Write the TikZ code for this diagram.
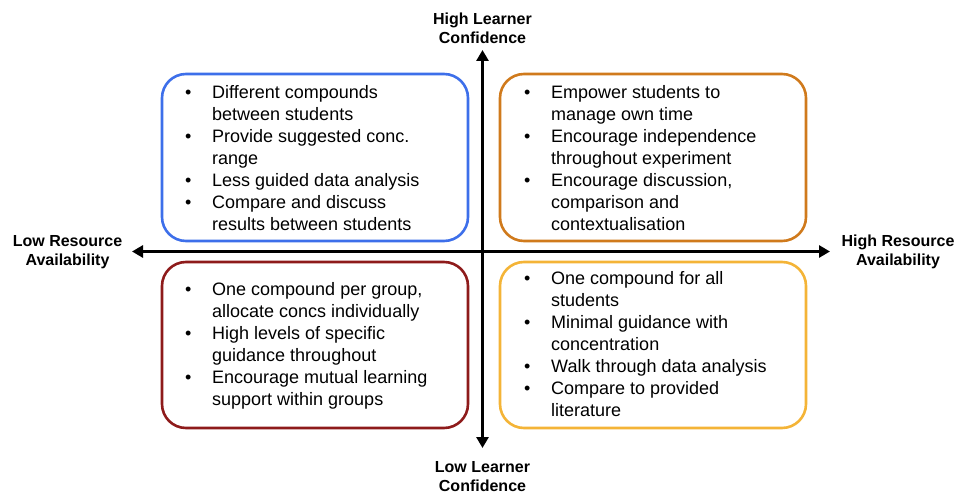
\documentclass[tikz,border=0pt]{standalone}
\usepackage{fontspec}
\setmainfont{Liberation Sans}
\usetikzlibrary{arrows.meta}
\definecolor{qblue}{HTML}{3D6FEA}
\definecolor{qorange}{HTML}{D07A1C}
\definecolor{qred}{HTML}{8E1B1B}
\definecolor{qyellow}{HTML}{F4B437}
\newcommand{\qb}{\makebox[27pt][l]{\textbullet}}
\newcommand{\qn}{\makebox[27pt][l]{}}
\begin{document}
\begin{tikzpicture}[x=1pt,y=-1pt,
  qbox/.style={draw, line width=2.6pt, rounded corners=24pt, minimum width=306pt, minimum height=167pt, inner sep=0pt},
  qtxt/.style={anchor=base west, inner sep=0pt, font=\fontsize{18}{22}\selectfont},
  qlab/.style={anchor=base, inner sep=0pt, font=\fontsize{16}{19}\selectfont\bfseries},
  qaxis/.style={line width=3.6pt, {Triangle[length=11pt,width=12pt]}-{Triangle[length=11pt,width=12pt]}}]
\useasboundingbox (0,0) rectangle (956,494);
\fill[white] (0,0) rectangle (956,494);

% boxes
\node[qbox, draw=qblue]   (tl) at (315,157.5) {};
\node[qbox, draw=qorange] (tr) at (653,157.5) {};
\node[qbox, draw=qred, minimum height=166pt]    (bl) at (315,345) {};
\node[qbox, draw=qyellow, minimum height=166pt] (br) at (653,345) {};

% axes
\coordinate (xl) at (132,251.5);
\coordinate (xr) at (830,251.5);
\coordinate (yt) at (482.5,50);
\coordinate (yb) at (482.5,448);
\draw[qaxis] (xl) -- (xr);
\draw[qaxis] (yt) -- (yb);

% axis labels
\node[qlab] (hlc) at (482.5,25) {\begin{tabular}[t]{@{}c@{}}High Learner\\Confidence\end{tabular}};
\node[qlab] (llc) at (482.5,472) {\begin{tabular}[t]{@{}c@{}}Low Learner\\Confidence\end{tabular}};
\node[qlab] (lra) at (67.5,247) {\begin{tabular}[t]{@{}c@{}}Low Resource\\Availability\end{tabular}};
\node[qlab] (hra) at (898,247) {\begin{tabular}[t]{@{}c@{}}High Resource\\Availability\end{tabular}};

% box texts
\node[qtxt] (tltxt) at (185,99) {\begin{tabular}[t]{@{}l@{}l@{}}
\qb & Different compounds\\
\qn & between students\\
\qb & Provide suggested conc.\\
\qn & range\\
\qb & Less guided data analysis\\
\qb & Compare and discuss\\
\qn & results between students
\end{tabular}};
\node[qtxt] (trtxt) at (524,99) {\begin{tabular}[t]{@{}l@{}l@{}}
\qb & Empower students to\\
\qn & manage own time\\
\qb & Encourage independence\\
\qn & throughout experiment\\
\qb & Encourage discussion,\\
\qn & comparison and\\
\qn & contextualisation
\end{tabular}};
\node[qtxt] (bltxt) at (185,296) {\begin{tabular}[t]{@{}l@{}l@{}}
\qb & One compound per group,\\
\qn & allocate concs individually\\
\qb & High levels of specific\\
\qn & guidance throughout\\
\qb & Encourage mutual learning\\
\qn & support within groups
\end{tabular}};
\node[qtxt] (brtxt) at (524,285) {\begin{tabular}[t]{@{}l@{}l@{}}
\qb & One compound for all\\
\qn & students\\
\qb & Minimal guidance with\\
\qn & concentration\\
\qb & Walk through data analysis\\
\qb & Compare to provided\\
\qn & literature
\end{tabular}};
\end{tikzpicture}
\end{document}
